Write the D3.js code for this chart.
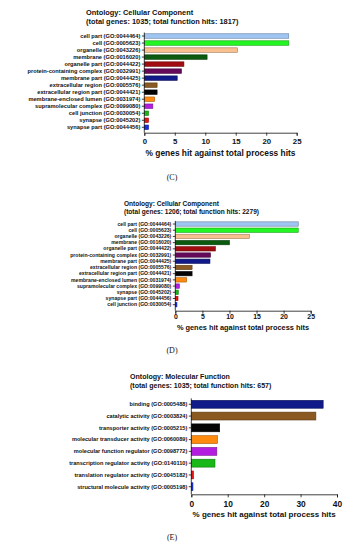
<!DOCTYPE html>
<html>
<head>
<meta charset="utf-8">
<script src="https://cdn.jsdelivr.net/npm/d3@7"></script>
<style>
  body { margin: 0; background: #fff; }
  svg text { font-family: "Liberation Sans", Arial, sans-serif; font-weight: bold; fill: #111; }
  .axis path, .axis line { stroke: #111; stroke-width: 0.8; }
  .caption { font-family: "Liberation Serif", serif !important; font-weight: normal !important; }
</style>
</head>
<body>
<script>
// 数据
var labelsC = ["cell part (GO:0044464)", "cell (GO:0005623)", "organelle (GO:0043226)", "membrane (GO:0016020)",
  "organelle part (GO:0044422)", "protein-containing complex (GO:0032991)", "membrane part (GO:0044425)",
  "extracellular region (GO:0005576)", "extracellular region part (GO:0044421)", "membrane-enclosed lumen (GO:0031974)",
  "supramolecular complex (GO:0099080)", "cell junction (GO:0030054)", "synapse (GO:0045202)", "synapse part (GO:0044456)"];
var valuesC = [23.7, 23.7, 15.3, 10.3, 6.5, 6.1, 5.4, 2.1, 2.1, 1.7, 1.4, 0.7, 0.7, 0.7];

var labelsD = ["cell part (GO:0044464)", "cell (GO:0005623)", "organelle (GO:0043226)", "membrane (GO:0016020)",
  "organelle part (GO:0044422)", "protein-containing complex (GO:0032991)", "membrane part (GO:0044425)",
  "extracellular region (GO:0005576)", "extracellular region part (GO:0044421)", "membrane-enclosed lumen (GO:0031974)",
  "supramolecular complex (GO:0099080)", "synapse (GO:0045202)", "synapse part (GO:0044456)", "cell junction (GO:0030054)"];
var valuesD = [22.7, 22.7, 13.7, 10.0, 7.4, 6.5, 6.4, 3.1, 3.1, 2.1, 0.75, 0.55, 0.5, 0.3];

var labelsE = ["binding (GO:0005488)", "catalytic activity (GO:0003824)", "transporter activity (GO:0005215)",
  "molecular transducer activity (GO:0060089)", "molecular function regulator (GO:0098772)",
  "transcription regulator activity (GO:0140110)", "translation regulator activity (GO:0045182)",
  "structural molecule activity (GO:0005198)"];
var valuesE = [36.2, 34.2, 7.8, 7.2, 7.0, 6.5, 0.6, 0.45];

var colorsCC = ["#9fc5f2", "#22f522", "#f7c08e", "#0b5a10", "#a00c10", "#650a5a", "#101a88", "#8a5a22",
  "#050505", "#ff8a10", "#b41ee0", "#18b818", "#e81414", "#1430ea"];
var colorsMF = ["#101a88", "#8a5a22", "#050505", "#ff8a10", "#b41ee0", "#18b818", "#e81414", "#1430ea"];

var ticksC = [0, 5, 10, 15, 20, 25];
var ticksD = [0, 5, 10, 15, 20, 25];
var ticksE = [0, 10, 20, 30, 40];

var width = 362, height = 550;
var svg = d3.select("body").append("svg")
  .attr("width", width)
  .attr("height", height);

// 画一个面板
function panel(p) {
  var g = svg.append("g");

  g.append("text").attr("x", p.titleX).attr("y", p.titleY)
    .style("font-size", p.titleSize + "px").text(p.title1);
  g.append("text").attr("x", p.titleX).attr("y", p.titleY + p.titleGap)
    .style("font-size", p.titleSize + "px").text(p.title2);

  var x = d3.scaleLinear().domain([0, d3.max(p.ticks)]).range([p.x0, p.x1]);
  var y = d3.scaleBand().domain(p.labels).range([p.y0, p.y1])
    .paddingInner(p.pad).paddingOuter(p.pad / 2);

  // 条形
  g.selectAll(".bar").data(p.values).enter().append("rect")
    .attr("x", x(0))
    .attr("y", function(d, i) { return y(p.labels[i]); })
    .attr("width", function(d) { return x(d) - x(0); })
    .attr("height", y.bandwidth())
    .attr("fill", function(d, i) { return p.colors[i]; })
    .attr("stroke", function(d, i) { return d3.color(p.colors[i]).darker(1.2); })
    .attr("stroke-width", 0.6);

  // y轴
  var ya = g.append("g").attr("class", "axis")
    .attr("transform", "translate(" + p.x0 + ",0)")
    .call(d3.axisLeft(y).tickSizeOuter(0).tickSize(2.5).tickPadding(1.5));
  ya.select(".domain").attr("d", "M0," + p.y0 + "V" + p.axisY);
  ya.selectAll("text").style("font-size", p.labelSize + "px").attr("fill", "#111");

  // x轴
  var xa = g.append("g").attr("class", "axis")
    .attr("transform", "translate(0," + p.axisY + ")")
    .call(d3.axisBottom(x).tickValues(p.ticks).tickSizeOuter(0).tickSize(3).tickPadding(p.tickPad));
  xa.selectAll("text").style("font-size", p.tickSize + "px").attr("fill", "#111");

  g.append("text").attr("x", (p.x0 + p.x1) / 2).attr("y", p.xTitleY)
    .attr("text-anchor", "middle").style("font-size", p.xTitleSize + "px")
    .text("% genes hit against total process hits");

  g.append("text").attr("class", "caption").attr("x", 172).attr("y", p.capY)
    .attr("text-anchor", "middle").style("font-size", "8px").text(p.caption);
}

panel({
  title1: "Ontology: Cellular Component", title2: "(total genes: 1035; total function hits: 1817)",
  titleX: 86, titleY: 15.2, titleGap: 9.2, titleSize: 7.4,
  labels: labelsC, values: valuesC, colors: colorsCC, ticks: ticksC,
  x0: 144.3, x1: 296.7, y0: 32.5, y1: 130.8, axisY: 132.7, pad: 0.36,
  labelSize: 5.7, tickSize: 7.8, tickPad: 3.2, xTitleY: 156.3, xTitleSize: 8.4,
  caption: "(C)", capY: 179.5
});

panel({
  title1: "Ontology: Cellular Component", title2: "(total genes: 1206; total function hits: 2279)",
  titleX: 124, titleY: 205.6, titleGap: 8.6, titleSize: 6.55,
  labels: labelsD, values: valuesD, colors: colorsCC, ticks: ticksD,
  x0: 175.3, x1: 310.7, y0: 220.9, y1: 307.8, axisY: 310.7, pad: 0.3,
  labelSize: 5.1, tickSize: 6.9, tickPad: 0.9, xTitleY: 329.5, xTitleSize: 7.4,
  caption: "(D)", capY: 353
});

panel({
  title1: "Ontology: Molecular Function", title2: "(total genes: 1035; total function hits: 657)",
  titleX: 130, titleY: 379.2, titleGap: 8.8, titleSize: 7.05,
  labels: labelsE, values: valuesE, colors: colorsMF, ticks: ticksE,
  x0: 191.3, x1: 337, y0: 398.4, y1: 492.6, axisY: 494.3, pad: 0.33,
  labelSize: 5.6, tickSize: 8.4, tickPad: 3.8, xTitleY: 517.3, xTitleSize: 8,
  caption: "(E)", capY: 539.5
});
</script>
</body>
</html>
